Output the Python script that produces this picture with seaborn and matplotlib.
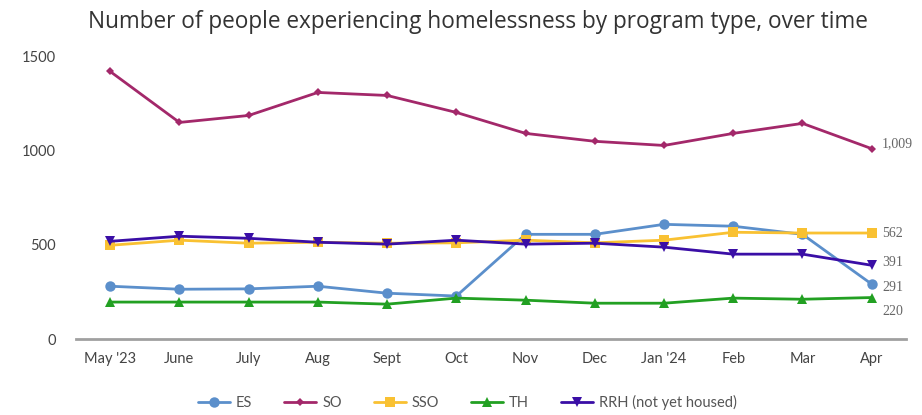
import matplotlib
matplotlib.use('Agg')
import matplotlib.pyplot as plt
import seaborn as sns
import pandas as pd
import numpy as np

# data
months = ["May '23", 'June', 'July', 'Aug', 'Sept', 'Oct', 'Nov', 'Dec', "Jan '24", 'Feb', 'Mar', 'Apr']
es = [280, 264, 266, 280, 243, 228, 555, 555, 608, 598, 555, 291]
so = [1418, 1148, 1185, 1307, 1291, 1201, 1090, 1048, 1026, 1090, 1143, 1009]
sso = [497, 524, 508, 513, 508, 510, 524, 510, 524, 566, 562, 562]
th = [196, 196, 196, 196, 185, 217, 206, 190, 190, 217, 211, 220]
rrh = [518, 545, 534, 513, 503, 524, 503, 508, 487, 450, 450, 391]
series_names = ['ES', 'SO', 'SSO', 'TH', 'RRH (not yet housed)']
end_labels = ['291', '1,009', '562', '220', '391']

colors = {'ES': '#5b8fcb', 'SO': '#a3286a', 'SSO': '#f9c132', 'TH': '#22a022',
          'RRH (not yet housed)': '#3a0ea6'}
markers = {'ES': 'o', 'SO': 'D', 'SSO': 's', 'TH': '^', 'RRH (not yet housed)': 'v'}
msize = {'ES': 7.5, 'SO': 4.5, 'SSO': 7.5, 'TH': 7.5, 'RRH (not yet housed)': 7.5}

df = pd.DataFrame({'pos': np.arange(len(months)), 'ES': es, 'SO': so, 'SSO': sso,
                   'TH': th, 'RRH (not yet housed)': rrh})
long = df.melt(id_vars='pos', var_name='program', value_name='count')

sns.set_style('white')
plt.rcParams['font.family'] = ['Lato', 'DejaVu Sans']

fig = plt.figure(figsize=(9.22, 4.15), dpi=100)
ax = fig.add_axes([0.082, 0.183, 0.901, 0.682])

for name in series_names:
    d = long[long['program'] == name]
    sns.lineplot(data=d, x='pos', y='count', color=colors[name], marker=markers[name],
                 markersize=msize[name], markeredgewidth=0, linewidth=2, ax=ax, label=name)

# value labels at the last point
label_off = {'ES': -16, 'SO': 26, 'SSO': 0, 'TH': -74, 'RRH (not yet housed)': 16}
last = len(months) - 1
for name, txt in zip(series_names, end_labels):
    v = df[name].iloc[last]
    ax.text(last + 0.15, v + label_off[name], txt, color='#666666', fontsize=10,
            va='center', ha='left', family='Liberation Serif')

ax.set_xlim(-0.5, 11.5)
ax.set_ylim(0, 1500)
ax.set_xticks(df['pos'])
ax.set_xticklabels(months)
ax.set_yticks([0, 500, 1000, 1500])
ax.set_xlabel('')
ax.set_ylabel('')
ax.tick_params(axis='both', length=0, labelsize=10.5, colors='#444444')
ax.tick_params(axis='x', pad=9)
ax.tick_params(axis='y', pad=14)
for s in ['top', 'right', 'left']:
    ax.spines[s].set_visible(False)
ax.spines['bottom'].set_color('#a0a0a0')
ax.spines['bottom'].set_linewidth(2)

fig.suptitle('Number of people experiencing homelessness by program type, over time',
             x=0.518, y=0.975, fontsize=16.3, color='#333333', family='Open Sans')

ax.get_legend().remove()
handles, labels = ax.get_legend_handles_labels()
leg = fig.legend(handles, labels, loc='center', bbox_to_anchor=(0.507, 0.03), ncol=5,
                 frameon=False, fontsize=10.5, handlelength=2.2, columnspacing=2.2,
                 handletextpad=0.4)
for t in leg.get_texts():
    t.set_color('#555555')

fig.savefig('out.png', dpi=100)
